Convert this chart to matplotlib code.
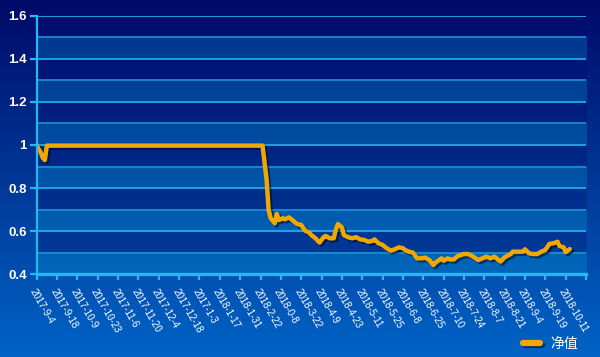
import numpy as np
import matplotlib
matplotlib.use("Agg")
import matplotlib.pyplot as plt
import matplotlib.patheffects as pe
from matplotlib.colors import to_rgb

day_idx = [0, 1, 2, 3, 4, 5, 111, 113, 114, 115, 117, 118, 119, 121, 122, 124, 126, 128,
           130, 132, 134, 135, 137, 139, 141, 142, 144, 146, 147, 148, 150, 151, 153, 155,
           157, 159, 161, 163, 165, 166, 168, 170, 172, 174, 176, 178, 180, 181, 183, 185,
           187, 189, 191, 193, 195, 196, 199, 200, 202, 203, 205, 207, 210, 212, 213, 215,
           217, 219, 221, 223, 225, 227, 228, 230, 233, 234, 237, 239, 240, 242, 244, 246,
           248, 250, 252, 254, 256, 257, 259, 260, 262]
nav = [1.0, 0.98, 0.965, 0.94, 0.93, 0.997, 0.997, 0.838, 0.698, 0.66, 0.637, 0.68, 0.652,
       0.66, 0.655, 0.664, 0.649, 0.633, 0.629, 0.602, 0.593, 0.582, 0.567, 0.547, 0.572,
       0.578, 0.567, 0.567, 0.606, 0.633, 0.618, 0.582, 0.572, 0.567, 0.572, 0.562, 0.559,
       0.551, 0.555, 0.562, 0.544, 0.536, 0.521, 0.510, 0.516, 0.525, 0.521, 0.513, 0.505,
       0.500, 0.474, 0.474, 0.477, 0.466, 0.443, 0.454, 0.474, 0.463, 0.474, 0.469, 0.469,
       0.485, 0.494, 0.494, 0.490, 0.479, 0.466, 0.474, 0.482, 0.474, 0.482, 0.466, 0.459,
       0.479, 0.494, 0.505, 0.505, 0.505, 0.516, 0.497, 0.494, 0.494, 0.505, 0.513, 0.541,
       0.544, 0.551, 0.531, 0.525, 0.503, 0.517]

date_labels = ["2017-9-4", "2017-9-18", "2017-10-9", "2017-10-23", "2017-11-6", "2017-11-20",
               "2017-12-4", "2017-12-18", "2017-1-3", "2018-1-17", "2018-1-31", "2018-2-22",
               "2018-0-8", "2018-3-22", "2018-4-9", "2018-4-23", "2018-5-11", "2018-5-25",
               "2018-6-8", "2018-6-25", "2018-7-10", "2018-7-24", "2018-8-7", "2018-8-21",
               "2018-9-4", "2018-9-19", "2018-10-11"]
label_step = 10
y_ticks = [0.4, 0.6, 0.8, 1.0, 1.2, 1.4, 1.6]
y_tick_labels = ["0.4", "0.6", "0.8", "1", "1.2", "1.4", "1.6"]
series_name = "净值"

cyan = "#22b8f0"
line_color = "#f0a800"


def gradient(top, bottom, n):
    t = np.linspace(0, 1, n)[:, None]
    return (1 - t) * np.array(to_rgb(top)) + t * np.array(to_rgb(bottom))


fig = plt.figure(figsize=(6, 3.57), dpi=100)

# figure background gradient
bg = fig.add_axes([0, 0, 1, 1], zorder=-10)
bg.imshow(gradient("#000a68", "#0064c6", 400)[:, None, :], aspect="auto",
          extent=[0, 1, 0, 1])
bg.axis("off")

ax = fig.add_axes([0.0612, 0.2317, 0.9155, 0.7244])
ax.set_facecolor("none")

n_cat = (len(date_labels)) * label_step
ax.set_xlim(0, n_cat)
ax.set_ylim(0.4, 1.6)

# banded plot area
rows = 1200
yy = np.linspace(1.6, 0.4, rows)
dark = gradient("#000c6c", "#003d9a", rows)
light = gradient("#00348a", "#0066ba", rows)
band = (np.floor((yy - 0.4) / 0.1 + 1e-9).astype(int) % 2 == 0)[:, None]
area = np.where(band, light, dark)
ax.imshow(area[:, None, :], aspect="auto", extent=[0, n_cat, 0.4, 1.6], zorder=0)

for k in range(1, 13):
    yv = 0.4 + k * 0.1
    ax.axhline(yv, color=cyan if k % 2 == 0 else "#1a92d6", lw=1.2, zorder=1)

ax.plot(day_idx, nav, color=line_color, lw=3.2, solid_joinstyle="round",
        solid_capstyle="round", zorder=3, label=series_name,
        path_effects=[pe.SimpleLineShadow(offset=(1.5, -1.5), shadow_color="#000020",
                                          alpha=0.5), pe.Normal()])

for s in ["top", "right"]:
    ax.spines[s].set_visible(False)
ax.spines["left"].set_color(cyan)
ax.spines["left"].set_linewidth(1.6)
ax.spines["bottom"].set_color(cyan)
ax.spines["bottom"].set_linewidth(2.4)
ax.spines["left"].set_zorder(4)
ax.spines["bottom"].set_zorder(4)

ax.set_yticks(y_ticks)
ax.set_yticklabels(y_tick_labels, fontfamily="Liberation Sans", fontweight="bold",
                   fontsize=9.5, color="white")
ax.tick_params(axis="y", length=5, width=1.6, color=cyan, pad=2)

ax.set_xticks(np.arange(0, n_cat + 1, label_step))
ax.set_xticklabels(date_labels + [""], fontfamily="Liberation Sans", fontsize=7,
                   color="white", rotation=-60, ha="left", va="top",
                   rotation_mode="anchor")
ax.tick_params(axis="x", length=4.5, width=1.6, color=cyan, pad=5)

leg = fig.legend(loc="center right", bbox_to_anchor=(0.985, 0.036), frameon=False,
                 handlelength=1.2, handletextpad=0.8,
                 prop={"family": ["Noto Sans CJK SC", "DejaVu Sans"], "size": 10})
for t in leg.get_texts():
    t.set_color("white")
for h in leg.get_lines():
    h.set_linewidth(4.5)

fig.savefig("out.png", dpi=100)
